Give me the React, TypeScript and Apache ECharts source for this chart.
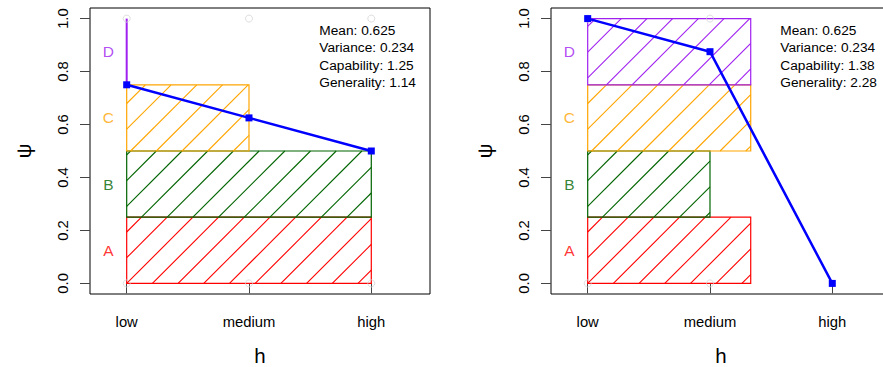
import React, { useEffect, useRef } from "react";
import * as echarts from "echarts";

const categories = ["low", "medium", "high"];
const categoryPositions = [1, 2, 3];
const yTicks = [0, 0.2, 0.4, 0.6, 0.8, 1.0];
const bandLabels = ["A", "B", "C", "D"];
const bandColors = ["#FF0000", "#006400", "#FFA500", "#A020F0"];
const bandBottoms = [0, 0.25, 0.5, 0.75];
const bandTops = [0.25, 0.5, 0.75, 1.0];
const leftBandEnds = [3, 3, 2, 1];
const rightBandEnds = [2.333, 2, 2.333, 2.333];
const leftCurve = [0.75, 0.625, 0.5];
const rightCurve = [1.0, 0.875, 0.0];
const statNames = ["Mean", "Variance", "Capability", "Generality"];
const leftStats = ["0.625", "0.234", "1.25", "1.14"];
const rightStats = ["0.625", "0.234", "1.38", "2.28"];
const leftRefX = [1, 2, 3];
const rightRefX = [1, 2];
const refY = [0, 1];

const FONT = "'Liberation Sans', Arial, Helvetica, sans-serif";
const HATCH = 25.7;
const X_MIN = 0.7;
const X_MAX = 3.48;
const Y_MIN = -0.04;
const Y_MAX = 1.04;
const GRID_TOP = 8;
const GRID_H = 286;
const GRID_W = 340;
const GRID_LEFTS = [90, 551];

function buildPanel(idx: number, bandEnds: number[], curve: number[], refX: number[]) {
  const xAxis = {
    type: "value",
    gridIndex: idx,
    min: X_MIN,
    max: X_MAX,
    axisLine: { show: false },
    splitLine: { show: false },
    axisTick: { show: true, length: 10, customValues: categoryPositions, lineStyle: { color: "#444", width: 1 } },
    axisLabel: {
      show: true,
      customValues: categoryPositions,
      margin: 20,
      fontSize: 14.8,
      fontFamily: FONT,
      color: "#000",
      formatter: (v: number) => categories[categoryPositions.indexOf(Math.round(v))] ?? "",
    },
    name: "h",
    nameLocation: "middle",
    nameGap: 51,
    nameTextStyle: { fontSize: 20.5, fontFamily: FONT, color: "#000" },
  };
  const yAxis = {
    type: "value",
    gridIndex: idx,
    min: Y_MIN,
    max: Y_MAX,
    axisLine: { show: false },
    splitLine: { show: false },
    axisTick: { show: true, length: 10, customValues: yTicks, lineStyle: { color: "#444", width: 1 } },
    axisLabel: {
      show: true,
      customValues: yTicks,
      rotate: 90,
      margin: 20,
      fontSize: 14.8,
      fontFamily: FONT,
      color: "#000",
      formatter: (v: number) => v.toFixed(1),
    },
    name: "ψ",
    nameLocation: "middle",
    nameRotate: 90,
    nameGap: 56,
    nameTextStyle: { fontSize: 20.5, fontFamily: FONT, color: "#000" },
  };

  const refData: number[][] = [];
  refX.forEach((x) => refY.forEach((y) => refData.push([x, y])));

  const rectData = bandLabels.map((_, i) => [1, bandEnds[i], bandBottoms[i], bandTops[i], i]);

  const series: any[] = [
    {
      type: "scatter",
      xAxisIndex: idx,
      yAxisIndex: idx,
      symbol: "circle",
      symbolSize: 7,
      itemStyle: { color: "rgba(0,0,0,0)", borderColor: "#d4d4d4", borderWidth: 1 },
      data: refData,
      silent: true,
    },
    {
      type: "custom",
      xAxisIndex: idx,
      yAxisIndex: idx,
      encode: { x: [0, 1], y: [2, 3] },
      data: rectData,
      silent: true,
      renderItem: (params: any, api: any) => {
        const x0 = api.value(0);
        const x1 = api.value(1);
        const y0 = api.value(2);
        const y1 = api.value(3);
        const ci = api.value(4);
        const p0 = api.coord([x0, y0]);
        const p1 = api.coord([x1, y1]);
        const anchor = api.coord([categoryPositions[0], 0]);
        const L = Math.min(p0[0], p1[0]);
        const R = Math.max(p0[0], p1[0]);
        const T = Math.min(p0[1], p1[1]);
        const B = Math.max(p0[1], p1[1]);
        const color = bandColors[ci];
        const children: any[] = [];
        if (R - L < 0.5) {
          children.push({
            type: "line",
            shape: { x1: L, y1: T, x2: L, y2: B },
            style: { stroke: color, lineWidth: 2, fill: null },
          });
        } else {
          const a = anchor[0] + anchor[1];
          const kMin = Math.ceil((L + T - a) / HATCH);
          const kMax = Math.floor((R + B - a) / HATCH);
          for (let k = kMin; k <= kMax; k++) {
            const s = a + k * HATCH;
            const xs = Math.max(L, s - B);
            const xe = Math.min(R, s - T);
            if (xe - xs > 0.3) {
              children.push({
                type: "line",
                shape: { x1: xs, y1: s - xs, x2: xe, y2: s - xe },
                style: { stroke: color, lineWidth: 1.1, fill: null, opacity: 1 },
              });
            }
          }
          children.push({
            type: "rect",
            shape: { x: L, y: T, width: R - L, height: B - T },
            style: { fill: "none", stroke: color, lineWidth: 1.2 },
          });
        }
        return { type: "group", children };
      },
    },
    {
      type: "line",
      xAxisIndex: idx,
      yAxisIndex: idx,
      data: curve.map((v, i) => [categoryPositions[i], v]),
      symbol: "rect",
      symbolSize: 7,
      showSymbol: true,
      lineStyle: { color: "#0000FF", width: 2.5 },
      itemStyle: { color: "#0000FF" },
      silent: true,
      z: 5,
    },
    {
      type: "scatter",
      xAxisIndex: idx,
      yAxisIndex: idx,
      symbolSize: 0,
      silent: true,
      z: 6,
      data: bandLabels.map((lab, i) => ({
        value: [0.85, (bandBottoms[i] + bandTops[i]) / 2, lab],
        label: {
          show: true,
          position: "inside",
          formatter: lab,
          color: bandColors[i],
          fontSize: 15.5,
          fontFamily: FONT,
        },
      })),
    },
  ];
  return { xAxis, yAxis, series };
}

export default function App() {
  const ref = useRef<HTMLDivElement>(null);
  useEffect(() => {
    if (!ref.current) return;
    const chart = echarts.init(ref.current, null, { renderer: "svg" });
    const p1 = buildPanel(0, leftBandEnds, leftCurve, leftRefX);
    const p2 = buildPanel(1, rightBandEnds, rightCurve, rightRefX);

    const graphics: any[] = [];
    [leftStats, rightStats].forEach((stats, pi) => {
      stats.forEach((v, i) => {
        graphics.push({
          type: "text",
          x: GRID_LEFTS[pi] + 229.3,
          y: 30.5 + i * 17.25,
          silent: true,
          style: {
            text: `${statNames[i]}: ${v}`,
            fill: "#000",
            fontSize: 13.7,
            fontFamily: FONT,
            align: "left",
            verticalAlign: "middle",
          },
        });
      });
    });

    chart.setOption({
      animation: false,
      backgroundColor: "#ffffff",
      grid: GRID_LEFTS.map((l) => ({
        left: l,
        top: GRID_TOP,
        width: GRID_W,
        height: GRID_H,
        show: true,
        borderColor: "#000",
        borderWidth: 1,
        backgroundColor: "transparent",
        containLabel: false,
        outerBoundsMode: "none",
      })),
      xAxis: [p1.xAxis, p2.xAxis],
      yAxis: [p1.yAxis, p2.yAxis],
      series: [...p1.series, ...p2.series],
      graphic: graphics,
    });
    return () => chart.dispose();
  }, []);
  return (
    <div
      ref={ref}
      style={{ position: "fixed", left: 0, top: 0, width: 883, height: 367, background: "#fff" }}
    />
  );
}
